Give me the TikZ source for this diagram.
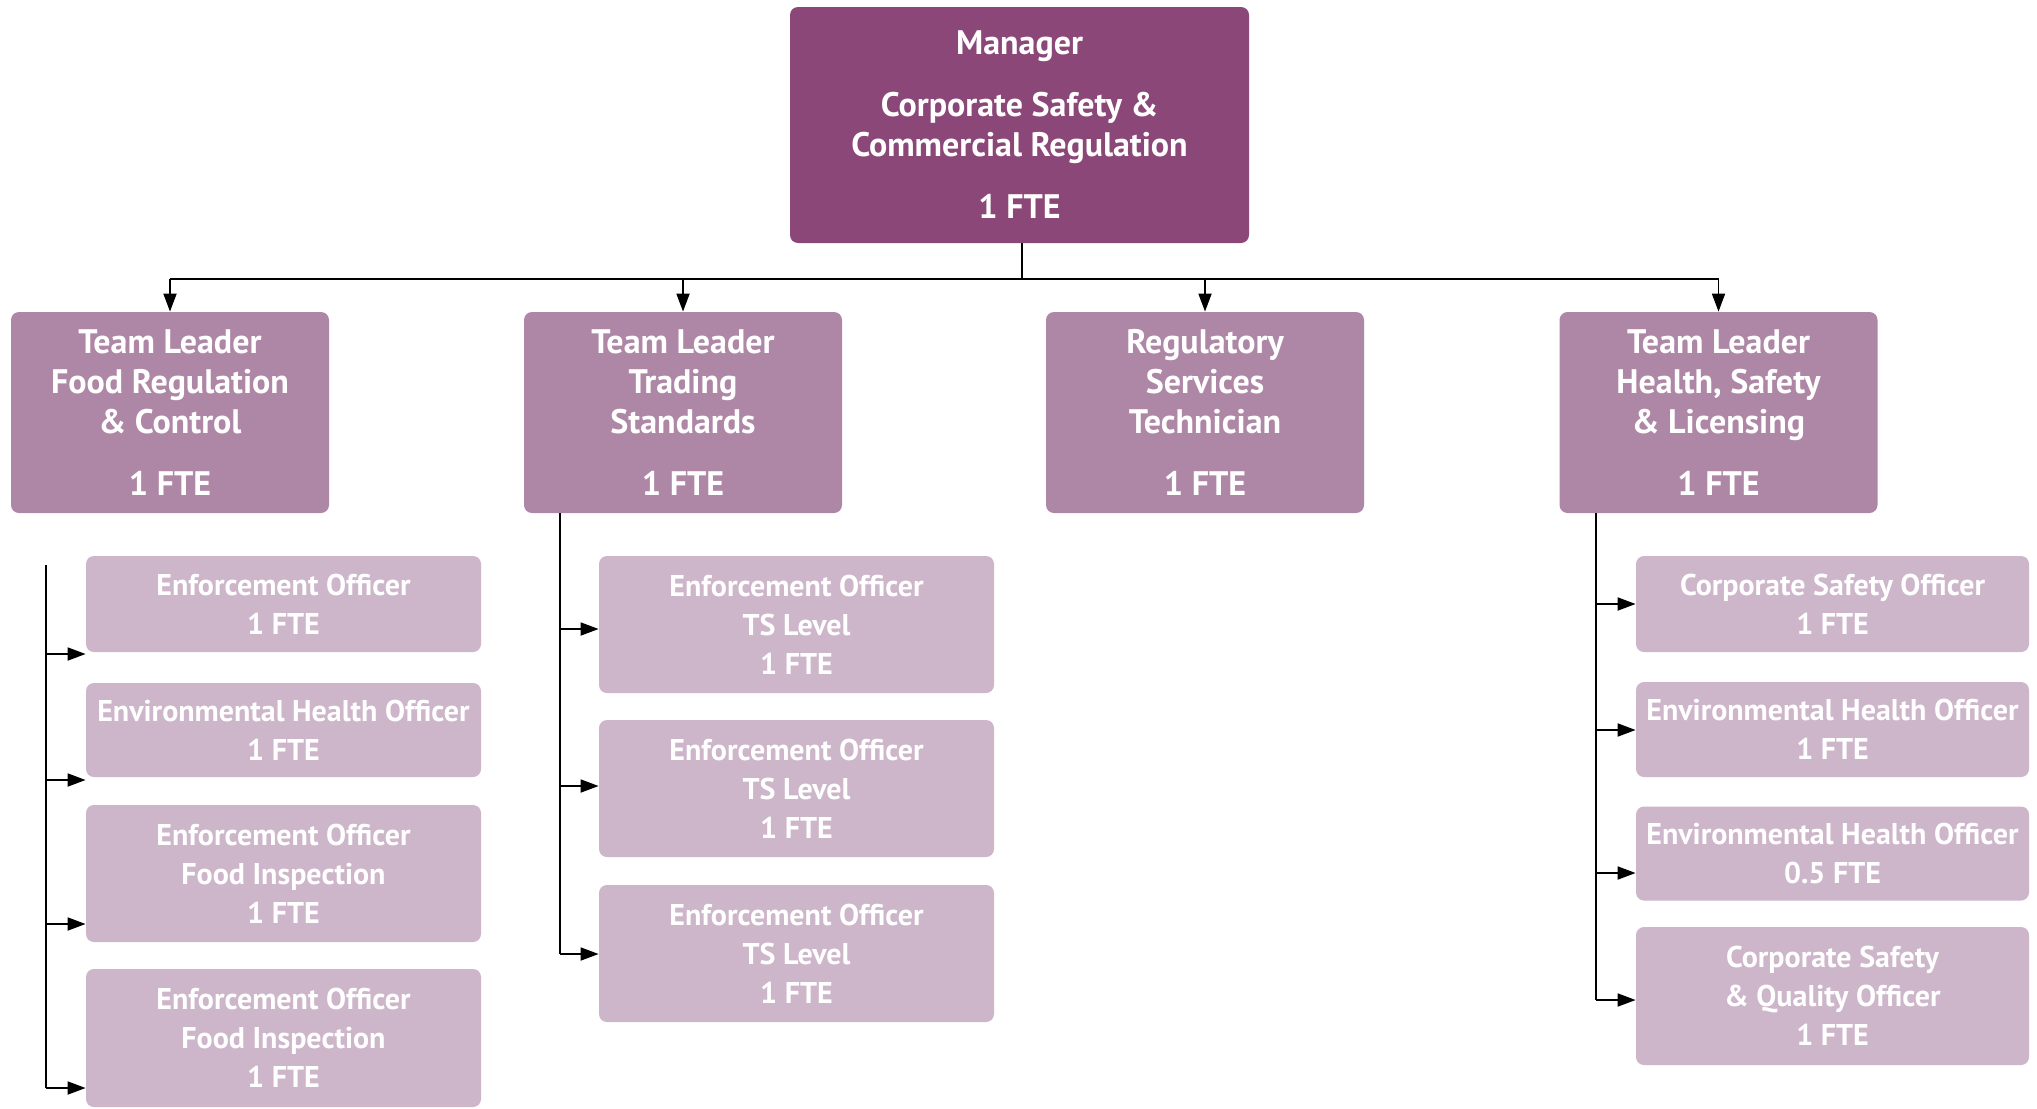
\documentclass[tikz,border=0pt]{standalone}
\usepackage{fontspec}
\setmainfont{PT Sans}
\usetikzlibrary{arrows.meta}
\definecolor{mgr}{RGB}{138,71,120}
\definecolor{lead}{RGB}{175,135,166}
\definecolor{staff}{RGB}{205,181,202}
\begin{document}
\begin{tikzpicture}[x=0.5pt,y=-0.5pt,
  box/.style={rounded corners=4pt, inner sep=0pt, text=white, align=center},
  mgrbox/.style={box, fill=mgr, minimum width=229.5pt, minimum height=118pt,
    font=\bfseries\fontsize{17}{20}\selectfont},
  leadbox/.style={box, fill=lead, minimum width=159pt, minimum height=100.5pt,
    font=\bfseries\fontsize{17}{20}\selectfont},
  staffbox/.style={box, fill=staff, minimum width=197.5pt,
    font=\bfseries\fontsize{15}{19.5}\selectfont},
  conn/.style={line width=0.9pt, black},
  arr/.style={conn, -{Triangle[length=9pt,width=6.5pt]}}]
\useasboundingbox[fill=white] (0,0) rectangle (2037,1108);

\node[mgrbox] (mgr) at (1019.5,125) {Manager\\[11pt]Corporate Safety \&\\Commercial Regulation\\[11pt]1 FTE};

\node[leadbox] (food) at (170,412.5) {Team Leader\\Food Regulation\\\& Control\\[11pt]1 FTE};
\node[leadbox] (trad) at (683,412.5) {Team Leader\\Trading\\Standards\\[11pt]1 FTE};
\node[leadbox] (tech) at (1205,412.5) {Regulatory\\Services\\Technician\\[11pt]1 FTE};
\node[leadbox] (hsl) at (1718.5,412.5) {Team Leader\\Health, Safety\\\& Licensing\\[11pt]1 FTE};

\node[staffbox, minimum height=48pt] (a1) at (283.5,604) {Enforcement Officer\\1 FTE};
\node[staffbox, minimum height=47pt] (a2) at (283.5,730) {Environmental Health Officer\\1 FTE};
\node[staffbox, minimum height=68.5pt] (a3) at (283.5,873.5) {Enforcement Officer\\Food Inspection\\1 FTE};
\node[staffbox, minimum height=69pt] (a4) at (283.5,1038) {Enforcement Officer\\Food Inspection\\1 FTE};

\node[staffbox, minimum height=68.5pt] (b1) at (796.5,624.5) {Enforcement Officer\\TS Level\\1 FTE};
\node[staffbox, minimum height=68.5pt] (b2) at (796.5,788.5) {Enforcement Officer\\TS Level\\1 FTE};
\node[staffbox, minimum height=68.5pt] (b3) at (796.5,953.5) {Enforcement Officer\\TS Level\\1 FTE};

\node[staffbox, minimum width=196.5pt, minimum height=48pt] (c1) at (1832.5,604) {Corporate Safety Officer\\1 FTE};
\node[staffbox, minimum width=196.5pt, minimum height=47.5pt] (c2) at (1832.5,729.5) {Environmental Health Officer\\1 FTE};
\node[staffbox, minimum width=196.5pt, minimum height=47pt] (c3) at (1832.5,853.5) {Environmental Health Officer\\0.5 FTE};
\node[staffbox, minimum width=196.5pt, minimum height=69pt] (c4) at (1832.5,996) {Corporate Safety\\\& Quality Officer\\1 FTE};

% top tree
\coordinate (bus) at (1022,279);
\draw[conn] (mgr.south -| bus) -- (bus);
\draw[conn] (bus -| food.north) -- (bus -| hsl.north);
\draw[arr] (bus -| food.north) -- (food.north);
\draw[arr] (bus -| trad.north) -- (trad.north);
\draw[arr] (bus -| tech.north) -- (tech.north);
\draw[arr] (bus -| hsl.north) -- (hsl.north);

% left column
\coordinate (ltop) at (46,565);
\coordinate (la1) at (46,654);
\coordinate (la2) at (46,780);
\coordinate (la3) at (46,924);
\coordinate (la4) at (46,1088);
\draw[conn] (ltop) -- (la4);
\draw[arr] (la1) -- (la1 -| a1.west);
\draw[arr] (la2) -- (la2 -| a2.west);
\draw[arr] (la3) -- (la3 -| a3.west);
\draw[arr] (la4) -- (la4 -| a4.west);

% trading column
\coordinate (tx) at (560,513);
\coordinate (tb1) at (560,629);
\coordinate (tb2) at (560,786);
\coordinate (tb3) at (560,954);
\draw[conn] (trad.south -| tx) -- (tb3);
\draw[arr] (tb1) -- (tb1 -| b1.west);
\draw[arr] (tb2) -- (tb2 -| b2.west);
\draw[arr] (tb3) -- (tb3 -| b3.west);

% health column
\coordinate (hx) at (1596,513);
\coordinate (hc1) at (1596,604);
\coordinate (hc2) at (1596,730);
\coordinate (hc3) at (1596,873);
\coordinate (hc4) at (1596,1000);
\draw[conn] (hsl.south -| hx) -- (hc4);
\draw[arr] (hc1) -- (hc1 -| c1.west);
\draw[arr] (hc2) -- (hc2 -| c2.west);
\draw[arr] (hc3) -- (hc3 -| c3.west);
\draw[arr] (hc4) -- (hc4 -| c4.west);
\end{tikzpicture}
\end{document}
